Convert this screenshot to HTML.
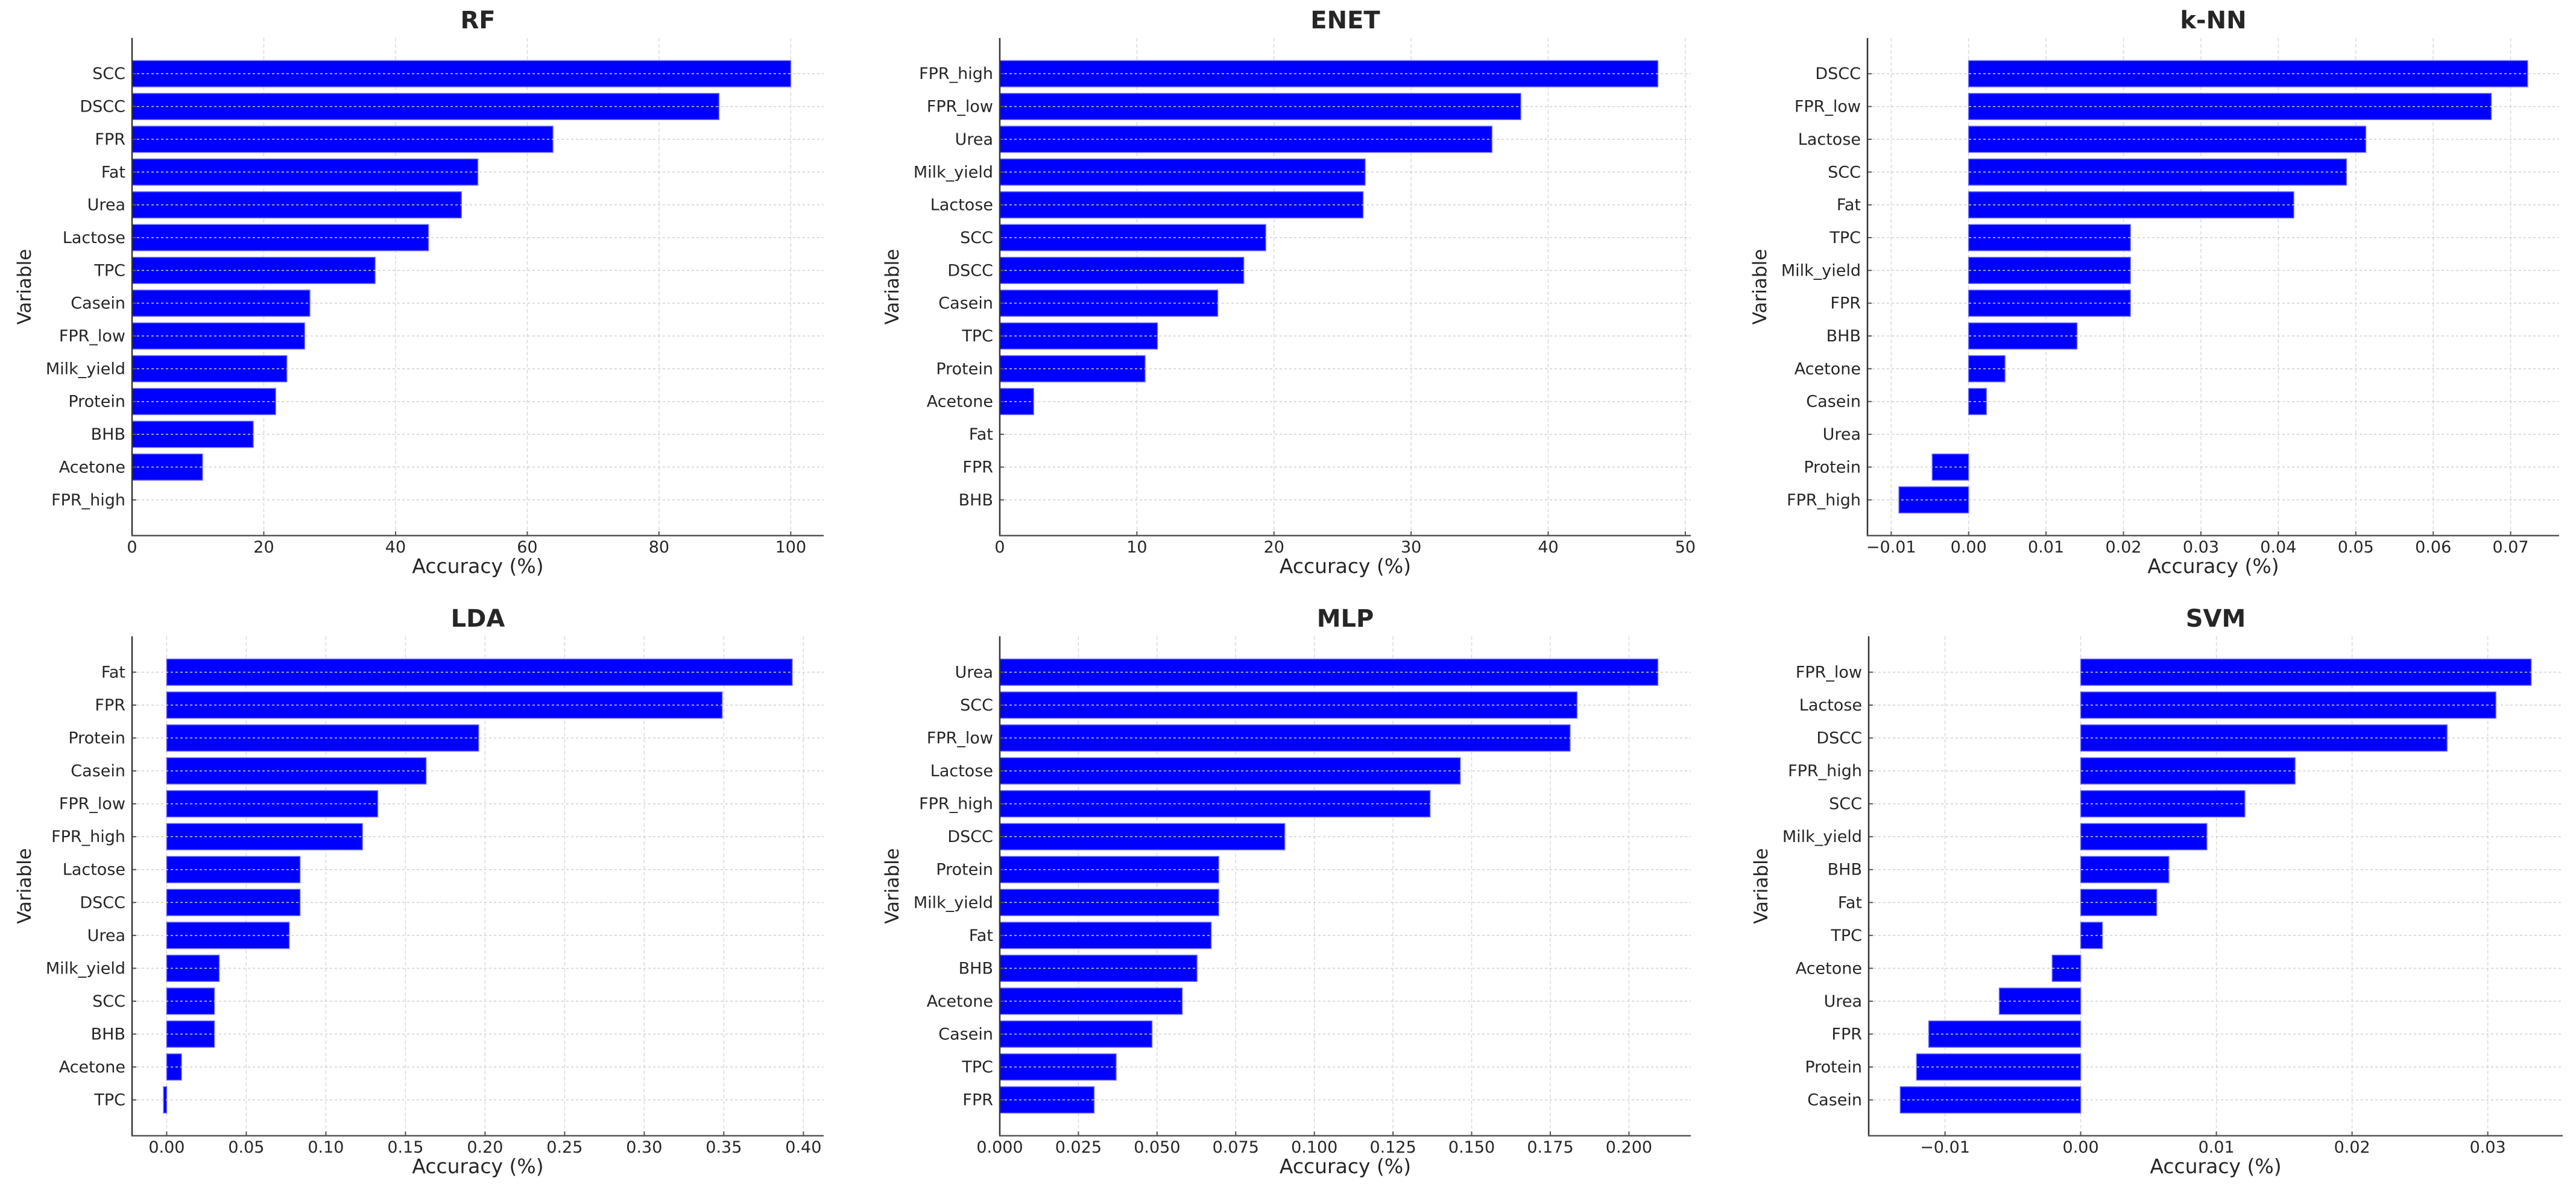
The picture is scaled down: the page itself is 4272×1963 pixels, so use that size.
<!DOCTYPE html>
<html><head><meta charset="utf-8">
<style>
html,body{margin:0;padding:0;background:#fff;}
svg{display:block;}
text{font-family:"DejaVu Sans","Liberation Sans",sans-serif;fill:#262626;}
</style></head>
<body>
<svg id="chart" width="4272" height="1963" viewBox="0 0 4272 1963" xmlns="http://www.w3.org/2000/svg"></svg>
<script>
const rfCats=["SCC","DSCC","FPR","Fat","Urea","Lactose","TPC","Casein","FPR_low","Milk_yield","Protein","BHB","Acetone","FPR_high"];
const rfVals=[100,89.1,63.9,52.5,50,45,36.9,27,26.2,23.5,21.8,18.4,10.7,0];
const rfTicks=[0,20,40,60,80,100];
const rfTickLabels=["0","20","40","60","80","100"];

const enetCats=["FPR_high","FPR_low","Urea","Milk_yield","Lactose","SCC","DSCC","Casein","TPC","Protein","Acetone","Fat","FPR","BHB"];
const enetVals=[48.0,38.0,35.9,26.65,26.5,19.4,17.8,15.9,11.5,10.6,2.47,0,0,0];
const enetTicks=[0,10,20,30,40,50];
const enetTickLabels=["0","10","20","30","40","50"];

const knnCats=["DSCC","FPR_low","Lactose","SCC","Fat","TPC","Milk_yield","FPR","BHB","Acetone","Casein","Urea","Protein","FPR_high"];
const knnVals=[0.0722,0.0675,0.0513,0.0488,0.042,0.0209,0.0209,0.0209,0.014,0.0047,0.0023,0,-0.0047,-0.009];
const knnTicks=[-0.01,0,0.01,0.02,0.03,0.04,0.05,0.06,0.07];
const knnTickLabels=["\u22120.01","0.00","0.01","0.02","0.03","0.04","0.05","0.06","0.07"];

const ldaCats=["Fat","FPR","Protein","Casein","FPR_low","FPR_high","Lactose","DSCC","Urea","Milk_yield","SCC","BHB","Acetone","TPC"];
const ldaVals=[0.393,0.349,0.196,0.163,0.1326,0.123,0.0838,0.0838,0.077,0.033,0.030,0.030,0.0093,-0.002];
const ldaTicks=[0,0.05,0.1,0.15,0.2,0.25,0.3,0.35,0.4];
const ldaTickLabels=["0.00","0.05","0.10","0.15","0.20","0.25","0.30","0.35","0.40"];

const mlpCats=["Urea","SCC","FPR_low","Lactose","FPR_high","DSCC","Protein","Milk_yield","Fat","BHB","Acetone","Casein","TPC","FPR"];
const mlpVals=[0.2092,0.1835,0.1813,0.1464,0.1368,0.0906,0.0696,0.0696,0.0672,0.0627,0.058,0.0484,0.037,0.030];
const mlpTicks=[0,0.025,0.05,0.075,0.1,0.125,0.15,0.175,0.2];
const mlpTickLabels=["0.000","0.025","0.050","0.075","0.100","0.125","0.150","0.175","0.200"];

const svmCats=["FPR_low","Lactose","DSCC","FPR_high","SCC","Milk_yield","BHB","Fat","TPC","Acetone","Urea","FPR","Protein","Casein"];
const svmVals=[0.0332,0.0306,0.027,0.0158,0.0121,0.0093,0.0065,0.0056,0.0016,-0.0021,-0.006,-0.0112,-0.0121,-0.0133];
const svmTicks=[-0.01,0,0.01,0.02,0.03];
const svmTickLabels=["\u22120.01","0.00","0.01","0.02","0.03"];

const NS="http://www.w3.org/2000/svg";
const svg=document.getElementById('chart');
function mk(tag,attrs,parent){const e=document.createElementNS(NS,tag);for(const k in attrs)e.setAttribute(k,attrs[k]);(parent||svg).appendChild(e);return e;}

function panel(key,title,cats,vals,ticks,tickLabels,L,R,T,B){
  const g=mk('g',{});
  
  
  let mn=Math.min(0,...vals), mx=Math.max(0,...vals);
  const rng=mx-mn;
  const lo= mn<0 ? mn-0.05*rng : 0;
  const hi= mx>0 ? mx+0.05*rng : 0;
  const xs=v=>L+(v-lo)/(hi-lo)*(R-L);
  const n=cats.length;
  const ylo=-0.4-0.05*(n-1+0.8), yhi=n-1+0.4+0.05*(n-1+0.8);
  const ys=i=>T+(i-ylo)/(yhi-ylo)*(B-T);
  const unit=(B-T)/(yhi-ylo);
  ticks.forEach((t,i)=>{
    const gl=mk('line',{x1:xs(t),x2:xs(t),y1:T,y2:B,stroke:'#dadada','stroke-width':1.5,'stroke-dasharray':'6,4'},g);
    
    
  });
  cats.forEach((c,i)=>{
    const v=vals[i];
    const x0=xs(Math.min(0,v)), x1=xs(Math.max(0,v));
    const r=mk('rect',{x:x0,y:ys(i)-0.4*unit,width:Math.max(0,x1-x0),height:0.8*unit,fill:'#0000ff',stroke:'#6a6aff','stroke-width':1.5},g);
    
    
  });
  cats.forEach((c,i)=>{
    const gl=mk('line',{x1:L,x2:R,y1:ys(i),y2:ys(i),stroke:'#d0d0d0','stroke-width':1.5,'stroke-dasharray':'4,4'},g);
    
    
    mk('line',{x1:L,x2:L+7,y1:ys(i),y2:ys(i),stroke:'#555','stroke-width':2},g);
    const tl=mk('text',{x:L-11,y:ys(i)+9,'text-anchor':'end','font-size':27},g);
    tl.textContent=c;
    
    
  });
  ticks.forEach((t,i)=>{
    mk('line',{x1:xs(t),x2:xs(t),y1:B,y2:B-7,stroke:'#555','stroke-width':2},g);
    const tl=mk('text',{x:xs(t),y:B+28,'text-anchor':'middle','font-size':27},g);
    tl.textContent=tickLabels[i];
    
    
  });
  mk('line',{x1:L,x2:L,y1:T,y2:B+1,stroke:'#333','stroke-width':2.5},g);
  mk('line',{x1:L-1,x2:R,y1:B,y2:B,stroke:'#555','stroke-width':2.5},g);
  const tt=mk('text',{x:(L+R)/2,y:T-16,'text-anchor':'middle','font-size':40,'font-weight':'bold'},g);
  tt.textContent=title;
  
  
  const xl=mk('text',{x:(L+R)/2,y:B+62,'text-anchor':'middle','font-size':33},g);
  xl.textContent='Accuracy (%)';
  
  
  const yl=mk('text',{x:0,y:0,'text-anchor':'middle','font-size':31,transform:'translate('+(L-168)+','+((T+B)/2)+') rotate(-90)'},g);
  yl.textContent='Variable';
  
  
}
panel('rf','RF',rfCats,rfVals,rfTicks,rfTickLabels,219,1366,63,888);
panel('enet','ENET',enetCats,enetVals,enetTicks,enetTickLabels,1658,2804,63,888);
panel('knn','k-NN',knnCats,knnVals,knnTicks,knnTickLabels,3097,4244,63,888);
panel('lda','LDA',ldaCats,ldaVals,ldaTicks,ldaTickLabels,219,1366,1055,1883);
panel('mlp','MLP',mlpCats,mlpVals,mlpTicks,mlpTickLabels,1658,2804,1055,1883);
panel('svm','SVM',svmCats,svmVals,svmTicks,svmTickLabels,3099,4250,1055,1883);
</script>
</body></html>
